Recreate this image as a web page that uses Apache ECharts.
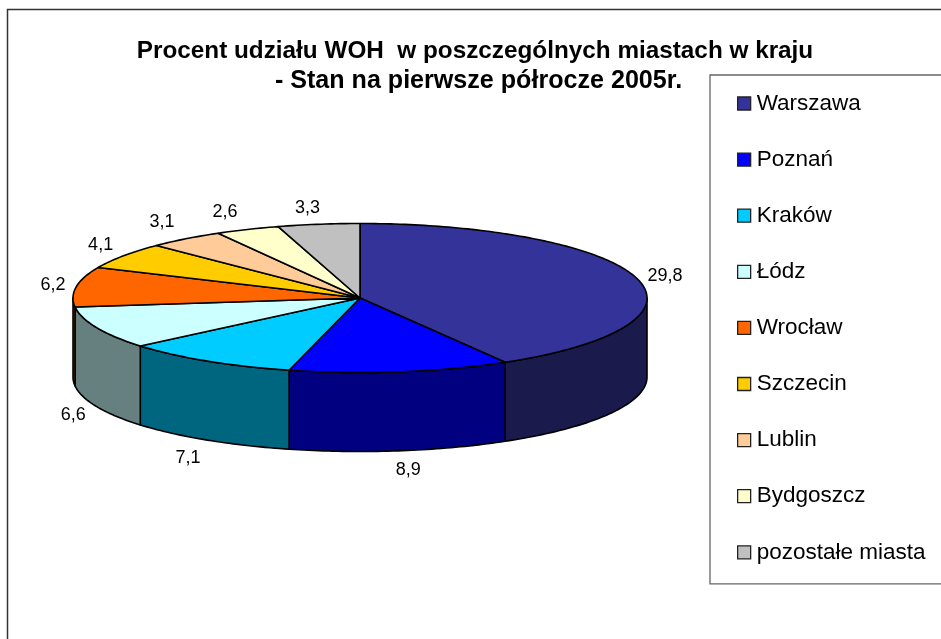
<!DOCTYPE html>
<html><head><meta charset="utf-8">
<style>html,body{margin:0;padding:0;background:#fff}#c{width:941px;height:639px}</style>
<script src="https://cdn.jsdelivr.net/npm/echarts@6/dist/echarts.min.js"></script>
</head><body><div id="c"></div>
<script>
const categories = ['Warszawa','Poznań','Kraków','Łódz','Wrocław','Szczecin','Lublin','Bydgoszcz','pozostałe miasta'];
const values = [29.8,8.9,7.1,6.6,6.2,4.1,3.1,2.6,3.3];
const topColors = ['#333399','#0000ff','#00ccff','#ccffff','#ff6600','#ffcc00','#ffcc99','#ffffcc','#c0c0c0'];
const sideColors = ['#1a1a4d','#000080','#006680','#668080','#803300','#806600','#80664d','#808066','#606060'];
const titleLine1 = 'Procent udziału WOH  w poszczególnych miastach w kraju';
const titleLine2 = '- Stan na pierwsze półrocze 2005r.';

const chart = echarts.init(document.getElementById('c'), null, {renderer:'canvas'});
const total = values.reduce((a,b)=>a+b,0);
const cx = 360, cy = 298, rx = 287, ry = 74.5, depth = 79;
const labelRx = 316, labelRy = 92;
// small hand placement of each data label, as the original program placed them
const labelNudgeX = [0,4,-4,3,5.5,1,-6,-11,-7];
const labelNudgeY = [2.5,2.5,3.5,1.5,1.5,-0.5,-2.5,-0.5,1.5];
const rad = d => d*Math.PI/180;
const pt = (a, dy) => [cx + rx*Math.sin(rad(a)), cy - ry*Math.cos(rad(a)) + (dy||0)];
const FONT = '"Liberation Sans", Arial, sans-serif';

function arcPoints(a0, a1, dy){
  const pts = [], n = Math.max(2, Math.ceil(Math.abs(a1-a0)));
  for(let i=0;i<=n;i++) pts.push(pt(a0+(a1-a0)*i/n, dy));
  return pts;
}

let cum = 0;
const series = values.map((v,i)=>{
  const a0 = cum/total*360; cum += v; const a1 = cum/total*360;
  return {
    type:'custom', name:categories[i], coordinateSystem:'none', silent:true,
    itemStyle:{color:topColors[i]},
    data:[v],
    renderItem(params, api){
      const val = api.value(0), children = [];
      const s0 = Math.max(a0,90), s1 = Math.min(a1,270);
      const lineStyle = {stroke:'#000', lineWidth:1.6, lineJoin:'round'};
      if(s1 > s0){
        const front = arcPoints(s0,s1,0), back = arcPoints(s1,s0,depth);
        children.push({type:'polygon', z2:1, shape:{points:front.concat(back)},
          style:Object.assign({fill:sideColors[i]},lineStyle)});
      }
      children.push({type:'polygon', z2:2, shape:{points:[[cx,cy]].concat(arcPoints(a0,a1,0))},
        style:Object.assign({fill:topColors[i]},lineStyle)});
      const mid = rad((a0+a1)/2), c = Math.cos(mid);
      children.push({type:'text', z2:3, style:{
        x:cx+labelRx*Math.sin(mid)+labelNudgeX[i],
        y:cy-0.5-labelRy*c+(c<0?depth:0)+labelNudgeY[i],
        text:String(val).replace('.',','),
        fill:'#000', font:'18px '+FONT,
        align:'center', verticalAlign:'middle'}});
      return {type:'group', children};
    }
  };
});

chart.setOption({
  animation:false,
  backgroundColor:'#fff',
  title:[
    {text:titleLine1, left:470, top:34, textAlign:'center',
     textStyle:{fontFamily:FONT, fontWeight:'bold', fontSize:24.3, color:'#000'}},
    {text:titleLine2, left:473.5, top:64, textAlign:'center',
     textStyle:{fontFamily:FONT, fontWeight:'bold', fontSize:25.1, color:'#000'}}
  ],
  legend:{
    orient:'vertical', left:710, top:75,
    padding:[17,80,20,27],
    backgroundColor:'#fff', borderColor:'#666', borderWidth:1.3,
    itemWidth:13, itemHeight:13, itemGap:33.1,
    selectedMode:false, icon:'rect',
    textStyle:{fontFamily:FONT, fontSize:22.5, color:'#000', padding:[0,0,0,1]},
    data:categories.map((n,i)=>({name:n, itemStyle:{color:topColors[i], borderColor:'#222', borderWidth:1.3}}))
  },
  graphic:[{type:'rect', silent:true, z:-1, shape:{x:7.5,y:9.5,width:1200,height:1200},
    style:{fill:'none', stroke:'#333', lineWidth:1.5}}],
  series
});
</script></body></html>
